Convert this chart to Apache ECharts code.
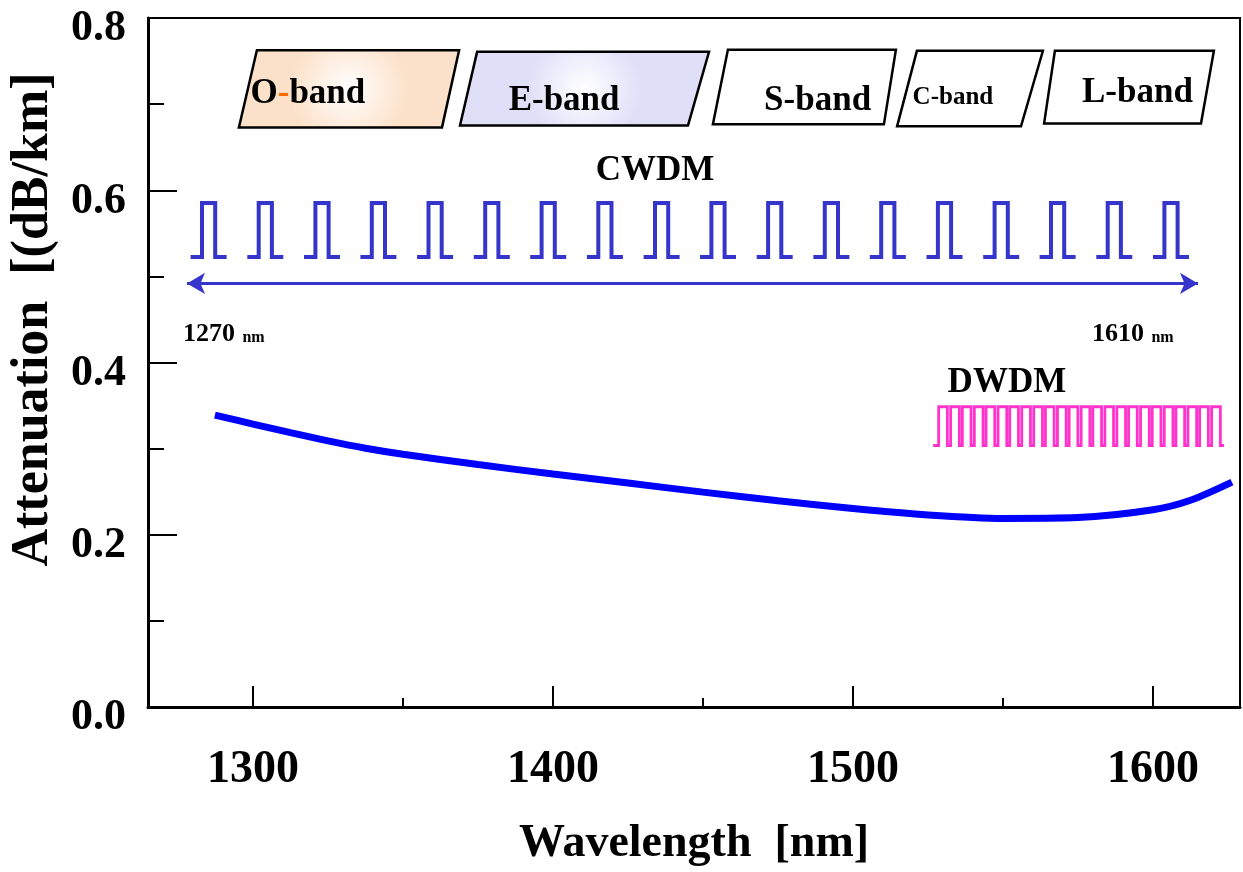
<!DOCTYPE html>
<html>
<head>
<meta charset="utf-8">
<script src="https://cdn.jsdelivr.net/npm/echarts@6/dist/echarts.min.js"></script>
<style>html,body{margin:0;padding:0;background:#fff;}#c{width:1243px;height:872px;}</style>
</head>
<body>
<div id="c"></div>
<script>
// ---- data ----
const wavelength = [1287.3, 1300, 1312.5, 1325, 1337.5, 1350, 1375, 1400, 1425, 1450, 1475, 1500, 1525, 1550, 1575, 1600, 1612.5, 1626.3];
const attenuation = [0.339, 0.3285, 0.3185, 0.309, 0.3005, 0.2935, 0.2815, 0.2705, 0.260, 0.2495, 0.2395, 0.2305, 0.223, 0.219, 0.220, 0.229, 0.240, 0.261];

const xMajorTicks = [1300, 1400, 1500, 1600];
const xMinorTicks = [1350, 1450, 1550];
const yTicks = [0.0, 0.2, 0.4, 0.6, 0.8];

// CWDM channel pulses (centres, nm) and levels
const cwdmCenters = [1285.2, 1304.1, 1323.0, 1341.8, 1360.7, 1379.6, 1398.4, 1417.3, 1436.2, 1455.0, 1473.9, 1492.8, 1511.6, 1530.5, 1549.4, 1568.2, 1587.1, 1606.0];
const cwdmLevels = [0.5226, 0.5853];
// CWDM span arrow
const cwdmArrowX = [1278.0, 1615.0];
const cwdmArrowY = [0.4918, 0.4918];

// DWDM comb
const dwdmCenters = [1530.0, 1534.0, 1537.9, 1541.9, 1545.8, 1549.8, 1553.7, 1557.7, 1561.7, 1565.6, 1569.6, 1573.5, 1577.5, 1581.4, 1585.4, 1589.4, 1593.3, 1597.3, 1601.2, 1605.2, 1609.1, 1613.1, 1617.0, 1621.0];
const dwdmSpan = [1526.7, 1623.7];
const dwdmLevels = [0.3036, 0.3486];

// band boxes (parallelograms): x of corners and y of top/bottom
const bandNames = ['O-band', 'E-band', 'S-band', 'C-band', 'L-band'];
const bandTopLeft = [1301.3, 1374.7, 1458.3, 1521.3, 1567.3];
const bandTopRight = [1368.7, 1452.0, 1514.3, 1563.3, 1620.3];
const bandBottomRight = [1363.0, 1445.0, 1510.3, 1556.0, 1616.0];
const bandBottomLeft = [1295.3, 1369.0, 1453.3, 1514.7, 1563.7];
const bandTop = [0.7625, 0.7607, 0.7631, 0.7619, 0.7619];
const bandBottom = [0.6730, 0.6753, 0.6765, 0.6742, 0.6776];
const bandLabelX = [1318.3, 1403.7, 1488.2, 1533.3, 1594.8];
const bandLabelY = [0.7123, 0.7042, 0.7042, 0.7077, 0.7134];

// annotation texts
const annoText = ['CWDM', 'DWDM', '1270', '1610'];
const annoX = [1434.0, 1551.3, 1276.7, 1579.7];
const annoY = [0.6222, 0.3763, 0.4329, 0.4329];

// ---- chart ----
const FONT = "'Liberation Serif','Times New Roman',serif";
const chart = echarts.init(document.getElementById('c'));

const bandFill = [
  new echarts.graphic.RadialGradient(0.5, 0.5, 0.75, [{offset: 0, color: '#ffffff'}, {offset: 0.25, color: '#fff7f0'}, {offset: 1, color: '#fbe1c9'}]),
  new echarts.graphic.RadialGradient(0.5, 0.5, 0.75, [{offset: 0, color: '#ffffff'}, {offset: 0.25, color: '#f7f7fe'}, {offset: 1, color: '#dfdff8'}]),
  '#ffffff', '#ffffff', '#ffffff'
];
const bandFont = [35, 35, 35, 25, 35];

const option = {
  animation: false,
  backgroundColor: '#ffffff',
  grid: {left: 148, top: 18, right: 3, bottom: 161, show: true, borderColor: '#000', borderWidth: 2, backgroundColor: 'transparent'},
  xAxis: [{
    type: 'value', min: 1265, max: 1629,
    name: 'Wavelength  [nm]', nameLocation: 'middle', nameGap: 114,
    nameTextStyle: {fontFamily: FONT, fontWeight: 'bold', fontSize: 46, color: '#000'},
    axisLine: {show: true, onZero: false, lineStyle: {color: '#000', width: 3}},
    axisTick: {show: true, inside: true, length: 21, customValues: xMajorTicks, lineStyle: {color: '#000', width: 2}},
    axisLabel: {customValues: xMajorTicks, margin: 40, fontFamily: FONT, fontWeight: 'bold', fontSize: 46, color: '#000', formatter: v => String(v)},
    splitLine: {show: false}
  }, {
    type: 'value', min: 1265, max: 1629, position: 'bottom',
    axisLine: {show: false},
    axisTick: {show: true, inside: true, length: 9, customValues: xMinorTicks, lineStyle: {color: '#000', width: 2}},
    axisLabel: {show: false},
    splitLine: {show: false}
  }],
  yAxis: {
    type: 'value', min: 0, max: 0.8, interval: 0.2,
    name: 'Attenuation  [(dB/km]', nameLocation: 'middle', nameGap: 88,
    nameTextStyle: {fontFamily: FONT, fontWeight: 'bold', fontSize: 52, color: '#000', padding: [0, 0, 0, 86]},
    axisLine: {show: true, onZero: false, lineStyle: {color: '#000', width: 3}},
    axisTick: {show: true, inside: true, length: 29, lineStyle: {color: '#000', width: 2}},
    minorTick: {show: true, splitNumber: 2, length: 16, lineStyle: {color: '#000', width: 2}},
    axisLabel: {margin: 22, verticalAlign: 'top', lineHeight: 22, fontFamily: FONT, fontWeight: 'bold', fontSize: 44, color: '#000',
      formatter: v => yTicks.indexOf(Math.round(v * 10) / 10) >= 0 ? v.toFixed(1) : ''},
    splitLine: {show: false}, minorSplitLine: {show: false}
  },
  series: [
    {
      type: 'custom', name: 'bands', xAxisIndex: 0, yAxisIndex: 0,
      data: bandNames.map((n, i) => [bandLabelX[i], bandLabelY[i]]),
      renderItem: function (params, api) {
        const i = params.dataIndex;
        const pts = [
          api.coord([bandTopLeft[i], bandTop[i]]),
          api.coord([bandTopRight[i], bandTop[i]]),
          api.coord([bandBottomRight[i], bandBottom[i]]),
          api.coord([bandBottomLeft[i], bandBottom[i]])
        ];
        const c = api.coord([bandLabelX[i], bandLabelY[i]]);
        const name = bandNames[i];
        const txt = i === 0 ? '{a|O}{h|-}{a|band}' : '{a|' + name + '}';
        return {
          type: 'group',
          children: [
            {type: 'polygon', shape: {points: pts}, style: {fill: bandFill[i], stroke: '#000', lineWidth: 2.5}},
            {type: 'text', style: {
              text: txt, x: c[0], y: c[1], align: 'center', verticalAlign: 'middle',
              rich: {
                a: {fontFamily: FONT, fontWeight: 'bold', fontSize: bandFont[i], fill: '#000'},
                h: {fontFamily: FONT, fontWeight: 'bold', fontSize: bandFont[i], fill: '#ff6a00'}
              }
            }}
          ]
        };
      }
    },
    {
      type: 'custom', name: 'CWDM', xAxisIndex: 0, yAxisIndex: 0,
      data: cwdmCenters.map(c => [c, cwdmLevels[0]]),
      renderItem: function (params, api) {
        const c = api.value(0);
        const b = cwdmLevels[0], t = cwdmLevels[1];
        const pts = [[c - 6.0, b], [c - 2.2, b], [c - 2.2, t], [c + 2.2, t], [c + 2.2, b], [c + 6.0, b]].map(p => api.coord(p));
        return {type: 'polyline', shape: {points: pts}, style: {stroke: '#3535cc', lineWidth: 4, fill: null, lineJoin: 'miter'}};
      }
    },
    {
      type: 'custom', name: 'DWDM', xAxisIndex: 0, yAxisIndex: 0,
      data: [[dwdmSpan[0], dwdmLevels[0]]],
      renderItem: function (params, api) {
        const b = dwdmLevels[0], t = dwdmLevels[1], hw = 1.45;
        const raw = [[dwdmSpan[0], b]];
        dwdmCenters.forEach(c => { raw.push([c - hw, b], [c - hw, t], [c + hw, t], [c + hw, b]); });
        raw.push([dwdmSpan[1], b]);
        return {type: 'polyline', shape: {points: raw.map(p => api.coord(p))}, style: {stroke: '#ff33cc', lineWidth: 2.8, fill: null}};
      }
    },
    {
      type: 'custom', name: 'texts', xAxisIndex: 0, yAxisIndex: 0,
      data: annoText.map((t, i) => [annoX[i], annoY[i]]),
      renderItem: function (params, api) {
        const i = params.dataIndex;
        const p = api.coord([annoX[i], annoY[i]]);
        if (i < 2) {
          return {type: 'text', style: {text: annoText[i], x: p[0], y: p[1], align: 'center', verticalAlign: 'middle',
            fontFamily: FONT, fontWeight: 'bold', fontSize: 35, fill: '#000'}};
        }
        return {type: 'text', style: {text: '{n|' + annoText[i] + '} {u|nm}', x: p[0], y: p[1], align: 'left', verticalAlign: 'middle',
          rich: {n: {fontFamily: FONT, fontWeight: 'bold', fontSize: 26, fill: '#000', verticalAlign: 'bottom'},
                 u: {fontFamily: FONT, fontWeight: 'bold', fontSize: 16, fill: '#000', verticalAlign: 'bottom', padding: [0, 0, 1, 4]}}}};
      }
    },
    {
      type: 'line', name: 'Attenuation', xAxisIndex: 0, yAxisIndex: 0,
      data: wavelength.map((w, i) => [w, attenuation[i]]),
      smooth: 0.3, showSymbol: false, symbol: 'none',
      lineStyle: {color: '#0000ff', width: 7},
      markLine: {
        silent: true, symbol: ['arrow', 'arrow'], symbolSize: [16, 18],
        label: {show: false},
        lineStyle: {color: '#3535cc', width: 3, type: 'solid'},
        data: [[{coord: [cwdmArrowX[0], cwdmArrowY[0]]}, {coord: [cwdmArrowX[1], cwdmArrowY[1]]}]]
      }
    }
  ]
};
chart.setOption(option);
</script>
</body>
</html>
